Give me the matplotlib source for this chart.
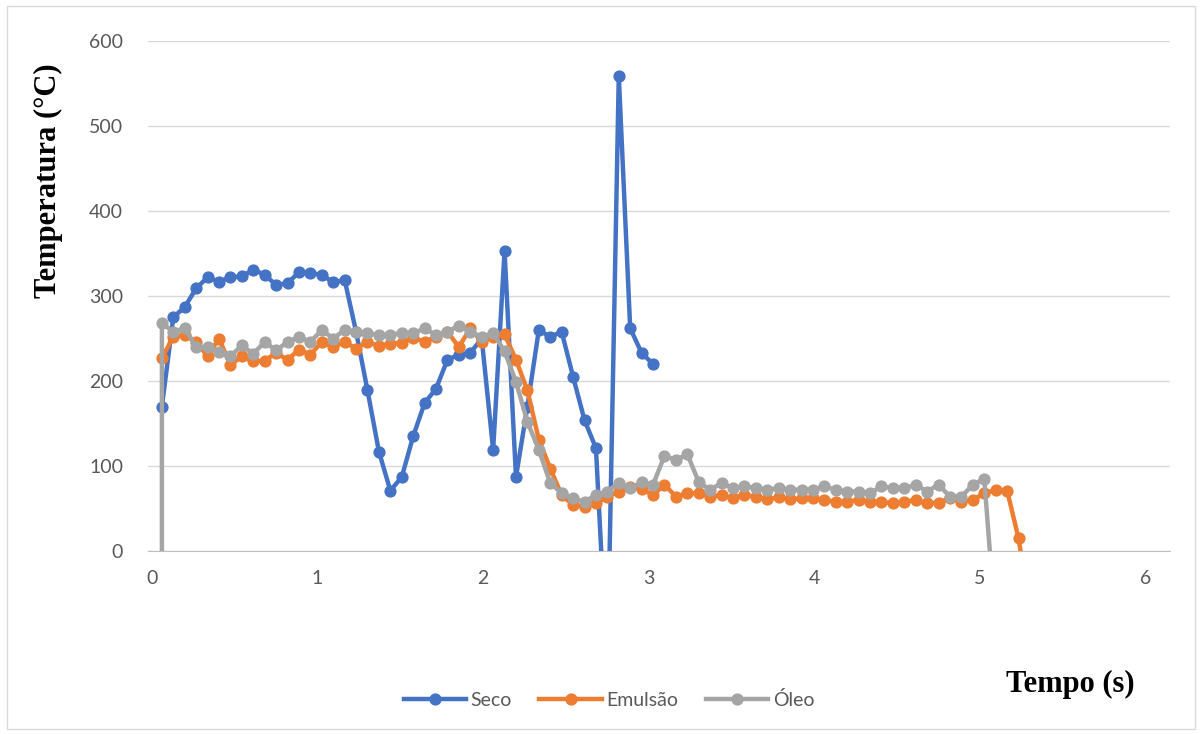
import matplotlib.pyplot as plt
from matplotlib.patches import Rectangle

# tempo (s) de cada leitura
tempo = [0.060, 0.129, 0.198, 0.267, 0.336, 0.405, 0.474, 0.543, 0.612, 0.681,
         0.750, 0.819, 0.888, 0.957, 1.026, 1.095, 1.164, 1.233, 1.302, 1.371,
         1.440, 1.509, 1.578, 1.647, 1.716, 1.785, 1.854, 1.923, 1.992, 2.061,
         2.130, 2.199, 2.268, 2.337, 2.406, 2.475, 2.544, 2.613, 2.682, 2.751,
         2.820, 2.889, 2.958, 3.027, 3.096, 3.165, 3.234, 3.303, 3.372, 3.441,
         3.510, 3.579, 3.648, 3.717, 3.786, 3.855, 3.924, 3.993, 4.062, 4.131,
         4.200, 4.269, 4.338, 4.407, 4.476, 4.545, 4.614, 4.683, 4.752, 4.821,
         4.890, 4.959, 5.028, 5.097, 5.166, 5.235, 5.304]

seco = [170, 275, 287, 309, 322, 317, 322, 323, 331, 325, 313, 315, 328, 327,
        325, 316, 319, 258, 189, 117, 71, 87, 135, 174, 191, 225, 231, 233,
        250, 119, 353, 87, 170, 260, 252, 258, 205, 154, 121, -140, 559, 262,
        233, 220]

emulsao = [227, 252, 254, 246, 229, 250, 219, 229, 223, 224, 233, 225, 237,
           231, 246, 240, 246, 238, 246, 241, 244, 245, 251, 246, 252, 258,
           240, 262, 246, 252, 255, 225, 189, 131, 97, 66, 54, 52, 56, 64, 70,
           75, 73, 66, 78, 64, 68, 68, 64, 66, 62, 66, 64, 61, 63, 61, 62, 62,
           60, 58, 58, 60, 58, 58, 56, 58, 60, 56, 57, 62, 58, 60, 68, 72, 71,
           15, -70]

# a primeira leitura do óleo é negativa (fora da escala)
oleo_inicio = -400
oleo = [268, 258, 262, 240, 240, 234, 229, 242, 232, 246, 236, 246, 252, 246,
        260, 250, 260, 258, 256, 254, 254, 257, 256, 262, 254, 258, 265, 258,
        252, 256, 235, 199, 152, 119, 80, 68, 62, 58, 66, 70, 80, 74, 81, 78,
        112, 107, 114, 81, 72, 80, 74, 76, 74, 72, 74, 72, 72, 72, 76, 72, 70,
        70, 68, 76, 74, 74, 78, 70, 78, 64, 64, 78, 85, -90]

tempo_oleo = [tempo[0]] + tempo[:len(oleo)]
valores_oleo = [oleo_inicio] + oleo

fig = plt.figure(figsize=(12.02, 7.34), dpi=100)
ax = fig.add_axes([148 / 1202, 1 - 551 / 734, 1022 / 1202, 510 / 734])

estilo = dict(lw=3.2, marker='o', ms=7.8)
ax.plot(tempo[:len(seco)], seco, color='#4472C4', label='Seco', **estilo)
ax.plot(tempo[:len(emulsao)], emulsao, color='#ED7D31', label='Emulsão', **estilo)
ax.plot(tempo_oleo, valores_oleo, color='#A5A5A5', label='Óleo', **estilo)

ax.set_xlim(-0.024, 6.15)
ax.set_ylim(0, 600)
ax.set_xticks(range(0, 7))
ax.set_yticks(range(0, 601, 100))
ax.grid(axis='y', color='#d9d9d9', lw=1)
ax.set_axisbelow(True)
for lado in ['top', 'right', 'left']:
    ax.spines[lado].set_visible(False)
ax.spines['bottom'].set_color('#bfbfbf')
ax.spines['bottom'].set_zorder(0.5)

ax.tick_params(length=0, labelsize=14, labelcolor='#595959')
ax.tick_params(axis='y', pad=18)
ax.tick_params(axis='x', pad=14)
for lbl in ax.get_xticklabels() + ax.get_yticklabels():
    lbl.set_family('Lato')

fig.text(48 / 1202, 1 - 181 / 734, 'Temperatura (°C)', rotation=90,
         family='Liberation Serif', weight='bold', size=22,
         ha='center', va='center')
fig.text(1070 / 1202, 1 - 684 / 734, 'Tempo (s)', family='Liberation Serif',
         weight='bold', size=22, ha='center', va='center')

fig.legend(loc='center', bbox_to_anchor=(609 / 1202, 1 - 700 / 734), ncol=3,
           frameon=False, handlelength=3.2, columnspacing=1.4, handletextpad=0.25,
           prop={'family': 'Lato', 'size': 14}, labelcolor='#595959')

fig.patches.append(Rectangle((7 / 1202, 5 / 734), 1188 / 1202, 723 / 734,
                             transform=fig.transFigure, fill=False,
                             ec='#d9d9d9', lw=1))

fig.savefig('out.png', dpi=100)
